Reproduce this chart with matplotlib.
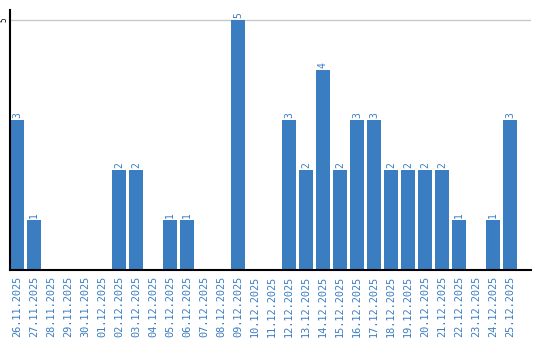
import matplotlib
matplotlib.use("Agg")
import matplotlib.pyplot as plt

days = ["26.11.2025", "27.11.2025", "28.11.2025", "29.11.2025", "30.11.2025",
        "01.12.2025", "02.12.2025", "03.12.2025", "04.12.2025", "05.12.2025",
        "06.12.2025", "07.12.2025", "08.12.2025", "09.12.2025", "10.12.2025",
        "11.12.2025", "12.12.2025", "13.12.2025", "14.12.2025", "15.12.2025",
        "16.12.2025", "17.12.2025", "18.12.2025", "19.12.2025", "20.12.2025",
        "21.12.2025", "22.12.2025", "23.12.2025", "24.12.2025", "25.12.2025"]
counts = [3, 1, 0, 0, 0, 0, 2, 2, 0, 1, 1, 0, 0, 5, 0, 0, 3, 2, 4, 2,
          3, 3, 2, 2, 2, 2, 1, 0, 1, 3]

blue = "#3b7dc1"

fig = plt.figure(figsize=(5.4, 3.4), dpi=100)
ax = fig.add_axes([10 / 540, 70 / 340, 521 / 540, 260 / 340])

x = list(range(len(days)))
ax.bar(x, counts, width=0.82, color=blue, zorder=3)

for i, v in zip(x, counts):
    if v > 0:
        ax.text(i, v + 0.04, str(v), rotation=90, ha="center", va="bottom",
                color=blue, fontsize=7, family="DejaVu Sans Mono")

ax.set_xlim(-0.41, 30.24)
ax.set_ylim(0, 5.2)
ax.set_yticks([5])
ax.set_yticklabels(["5"], rotation=90, va="center", ha="right", fontsize=5.5,
                   family="DejaVu Sans Mono")
ax.tick_params(axis="y", length=0, pad=1)
ax.yaxis.grid(True, color="#c8c8c8", linewidth=1, zorder=0)

ax.set_xticks(x)
ax.set_xticklabels(days, rotation=90, fontsize=7.4, color=blue,
                   family="DejaVu Sans Mono")
ax.tick_params(axis="x", length=0, pad=4)

for side in ["top", "right"]:
    ax.spines[side].set_visible(False)
for side in ["left", "bottom"]:
    ax.spines[side].set_color("black")
    ax.spines[side].set_linewidth(1.5)
    ax.spines[side].set_zorder(4)

fig.savefig("out.png", dpi=100)
